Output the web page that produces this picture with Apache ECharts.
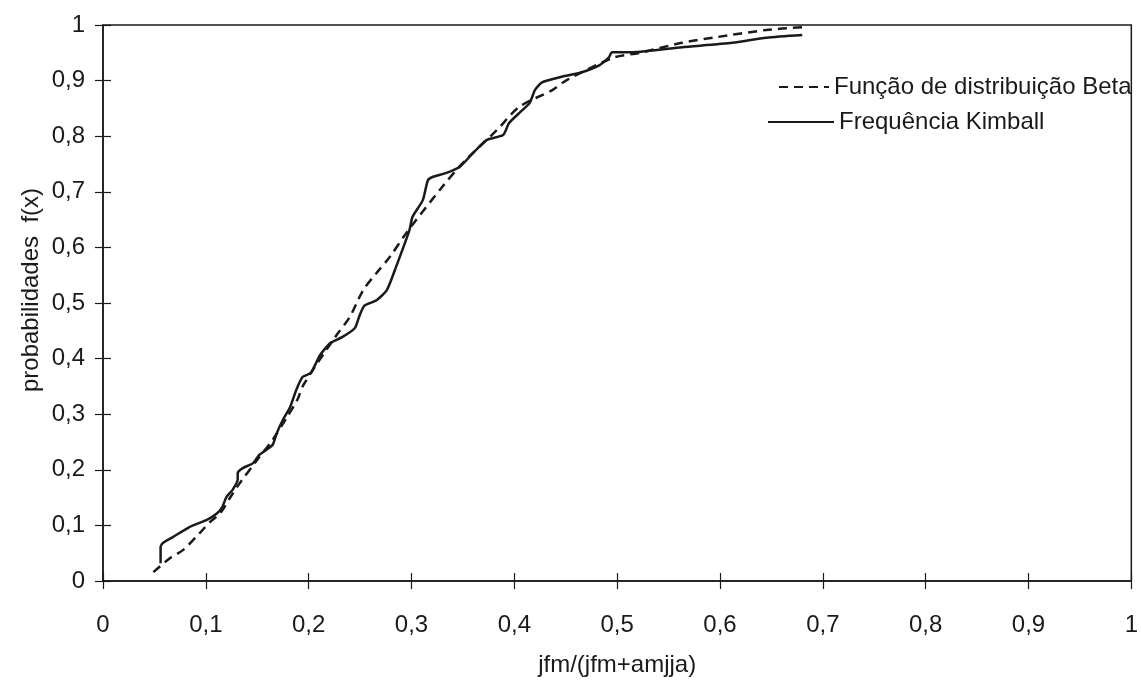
<!DOCTYPE html>
<html>
<head>
<meta charset="utf-8">
<script src="https://cdn.jsdelivr.net/npm/echarts@6/dist/echarts.min.js"></script>
<style>
html,body{margin:0;padding:0;background:#fff;}
#chart{width:1141px;height:683px;}
</style>
</head>
<body>
<div id="chart"></div>
<script>
const betaX = [0.049,0.065,0.078,0.094,0.104,0.114,0.124,0.133,0.150,0.165,0.179,0.189,0.195,0.227,0.240,0.253,0.266,0.279,0.295,0.330,0.350,0.383,0.405,0.437,0.451,0.496,0.522,0.563,0.596,0.645,0.680];
const betaY = [0.016,0.041,0.056,0.086,0.106,0.122,0.151,0.176,0.218,0.254,0.295,0.326,0.353,0.442,0.475,0.523,0.554,0.583,0.626,0.709,0.752,0.811,0.853,0.883,0.901,0.941,0.950,0.968,0.978,0.991,0.996];
const kimX = [0.056,0.056,0.058,0.068,0.084,0.101,0.111,0.116,0.120,0.126,0.131,0.131,0.136,0.146,0.152,0.159,0.165,0.169,0.175,0.182,0.188,0.194,0.202,0.211,0.221,0.233,0.245,0.249,0.254,0.266,0.276,0.285,0.298,0.301,0.311,0.316,0.321,0.334,0.347,0.360,0.373,0.389,0.395,0.405,0.415,0.420,0.427,0.444,0.464,0.483,0.492,0.495,0.515,0.563,0.612,0.645,0.680];
const kimY = [0.032,0.061,0.068,0.079,0.097,0.110,0.122,0.133,0.151,0.164,0.182,0.194,0.203,0.212,0.227,0.236,0.245,0.266,0.290,0.313,0.344,0.367,0.374,0.406,0.428,0.439,0.455,0.475,0.495,0.505,0.523,0.565,0.631,0.655,0.685,0.721,0.727,0.734,0.745,0.770,0.793,0.802,0.824,0.842,0.860,0.883,0.897,0.906,0.914,0.928,0.942,0.951,0.951,0.960,0.968,0.977,0.982];
const xTickLabels = ['0','0,1','0,2','0,3','0,4','0,5','0,6','0,7','0,8','0,9','1'];
const yTickLabels = ['0','0,1','0,2','0,3','0,4','0,5','0,6','0,7','0,8','0,9','1'];
const betaName = 'Função de distribuição Beta';
const kimName = 'Frequência Kimball';
const xName = 'jfm/(jfm+amjja)';
const yName = 'probabilidades  f(x)';

const FONT = '"Liberation Sans", Arial, sans-serif';
const INK = '#1a1a1a';
const chart = echarts.init(document.getElementById('chart'), null, {renderer:'canvas'});

function zip(a,b){return a.map((v,i)=>[v,b[i]]);}
const axisBase = {
  type:'value', min:0, max:1, interval:0.1,
  splitLine:{show:false}
};
const legendCommon = {
  padding:0, itemHeight:14,
  itemStyle:{opacity:0, borderWidth:0},
  textStyle:{fontFamily:FONT, fontSize:24, color:INK}
};
chart.setOption({
  animation:false,
  backgroundColor:'#fff',
  grid:{left:103, right:8, top:25, bottom:102, show:true, borderColor:INK, borderWidth:1.5, containLabel:false},
  legend:[
    Object.assign({left:778, top:75, itemWidth:50, data:[betaName]}, legendCommon),
    Object.assign({left:767, top:110, itemWidth:66, data:[kimName]}, legendCommon)
  ],
  xAxis:[
    Object.assign({}, axisBase, {
      name:xName, nameLocation:'middle', nameGap:72,
      nameTextStyle:{fontFamily:FONT, fontSize:24, color:INK},
      axisLine:{show:true, onZero:false, lineStyle:{color:INK, width:1.5}},
      axisTick:{show:true, inside:false, length:8, lineStyle:{color:INK, width:1.2}},
      axisLabel:{margin:32, fontFamily:FONT, fontSize:24, color:INK,
        formatter:v=>xTickLabels[Math.round(v*10)]}
    }),
    Object.assign({}, axisBase, {
      position:'bottom',
      axisLine:{show:false},
      axisTick:{show:true, inside:true, length:8, lineStyle:{color:INK, width:1.2}},
      axisLabel:{show:false}
    })
  ],
  yAxis:[
    Object.assign({}, axisBase, {
      axisLine:{show:true, onZero:false, lineStyle:{color:INK, width:1.5}},
      axisTick:{show:true, inside:false, length:8, lineStyle:{color:INK, width:1.2}},
      axisLabel:{margin:18, fontFamily:FONT, fontSize:24, color:INK,
        formatter:v=>yTickLabels[Math.round(v*10)]}
    }),
    Object.assign({}, axisBase, {
      position:'left',
      axisLine:{show:false},
      axisTick:{show:true, inside:true, length:8, lineStyle:{color:INK, width:1.2}},
      axisLabel:{show:false}
    })
  ],
  graphic:[{
    type:'text', x:31, y:290, rotation:Math.PI/2,
    style:{text:yName, fontFamily:FONT, fontSize:24, fill:INK, align:'center', verticalAlign:'middle'}
  }],
  series:[
    {name:betaName, type:'line', xAxisIndex:0, yAxisIndex:0, data:zip(betaX,betaY),
     showSymbol:false, symbol:'none', smooth:0.3,
     lineStyle:{color:INK, width:2.5, type:[9,6]}, itemStyle:{color:INK}, z:3},
    {name:kimName, type:'line', xAxisIndex:0, yAxisIndex:0, data:zip(kimX,kimY),
     showSymbol:false, symbol:'none', smooth:0.2,
     lineStyle:{color:INK, width:2.5}, itemStyle:{color:INK}, z:4}
  ]
});
</script>
</body>
</html>
